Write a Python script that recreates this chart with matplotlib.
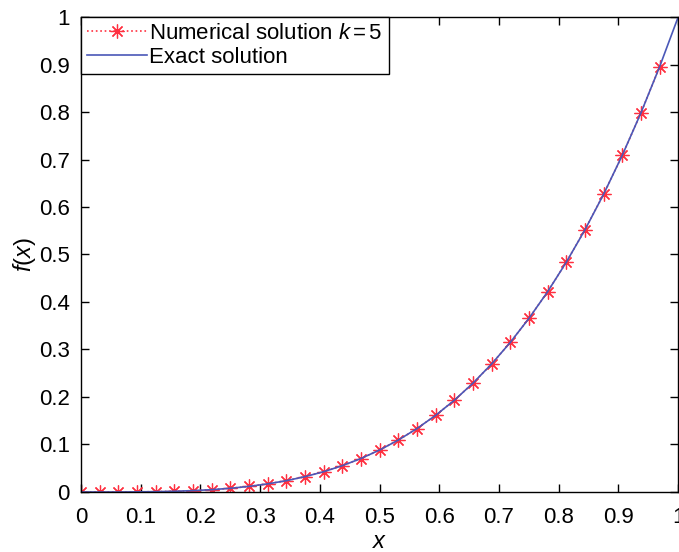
import matplotlib
matplotlib.use("Agg")
import matplotlib.pyplot as plt

plt.rcParams['font.family'] = ['Liberation Sans', 'DejaVu Sans']
plt.rcParams['mathtext.fontset'] = 'custom'
plt.rcParams['mathtext.rm'] = 'Liberation Sans'
plt.rcParams['mathtext.it'] = 'Liberation Sans:italic'

# grid points x = i/32 and the values read for each solution
x_num = [0.0, 0.03125, 0.0625, 0.09375, 0.125, 0.15625, 0.1875, 0.21875,
         0.25, 0.28125, 0.3125, 0.34375, 0.375, 0.40625, 0.4375, 0.46875,
         0.5, 0.53125, 0.5625, 0.59375, 0.625, 0.65625, 0.6875, 0.71875,
         0.75, 0.78125, 0.8125, 0.84375, 0.875, 0.90625, 0.9375, 0.96875]
f_num = [0.0, 0.0, 0.0, 0.0003, 0.0007, 0.0015, 0.0029, 0.0049,
         0.0078, 0.0118, 0.0171, 0.0238, 0.0323, 0.0427, 0.0554, 0.0705,
         0.0884, 0.1093, 0.1335, 0.1613, 0.1930, 0.2290, 0.2694, 0.3148,
         0.3654, 0.4214, 0.4835, 0.5517, 0.6266, 0.7086, 0.7978, 0.8948]

x_exact = x_num + [1.0]
f_exact = f_num + [1.0]

xticks = [0, 0.1, 0.2, 0.3, 0.4, 0.5, 0.6, 0.7, 0.8, 0.9, 1]
yticks = [0, 0.1, 0.2, 0.3, 0.4, 0.5, 0.6, 0.7, 0.8, 0.9, 1]

fig = plt.figure(figsize=(6.79, 5.52), dpi=100)
ax = fig.add_axes([0.1193, 0.1087, 0.8795, 0.8605])

ax.plot(x_num, f_num, color='#ff3040', linestyle=':', linewidth=1.2,
        marker=(8, 2, 0), markersize=10, markeredgewidth=0.9,
        label='Numerical solution $k\\,$=$\\,$5')
ax.plot(x_exact, f_exact, color='#4a58b8', linewidth=1.2,
        label='Exact solution')

ax.set_xlim(0, 1)
ax.set_ylim(0, 1)
ax.set_xticks(xticks)
ax.set_yticks(yticks)
ax.set_xticklabels([f'{t:g}' for t in xticks])
ax.set_yticklabels([f'{t:g}' for t in yticks])
ax.tick_params(direction='in', length=6, width=1, top=True, right=True,
               labelsize=16, colors='black')
ax.tick_params(axis='x', pad=11)
ax.tick_params(axis='y', pad=8)
for s in ax.spines.values():
    s.set_linewidth(1)

ax.set_xlabel('$x$', fontsize=17, labelpad=2)
ax.set_ylabel('$f$($x$)', fontsize=17, labelpad=1)

leg = ax.legend(loc='upper left', fontsize=16, handlelength=2.7,
                handletextpad=0.1, borderpad=0.28, labelspacing=0.12,
                borderaxespad=0, fancybox=False, framealpha=1)
leg.get_frame().set_edgecolor('black')
leg.get_frame().set_linewidth(1)

fig.savefig('out.png', dpi=100)
